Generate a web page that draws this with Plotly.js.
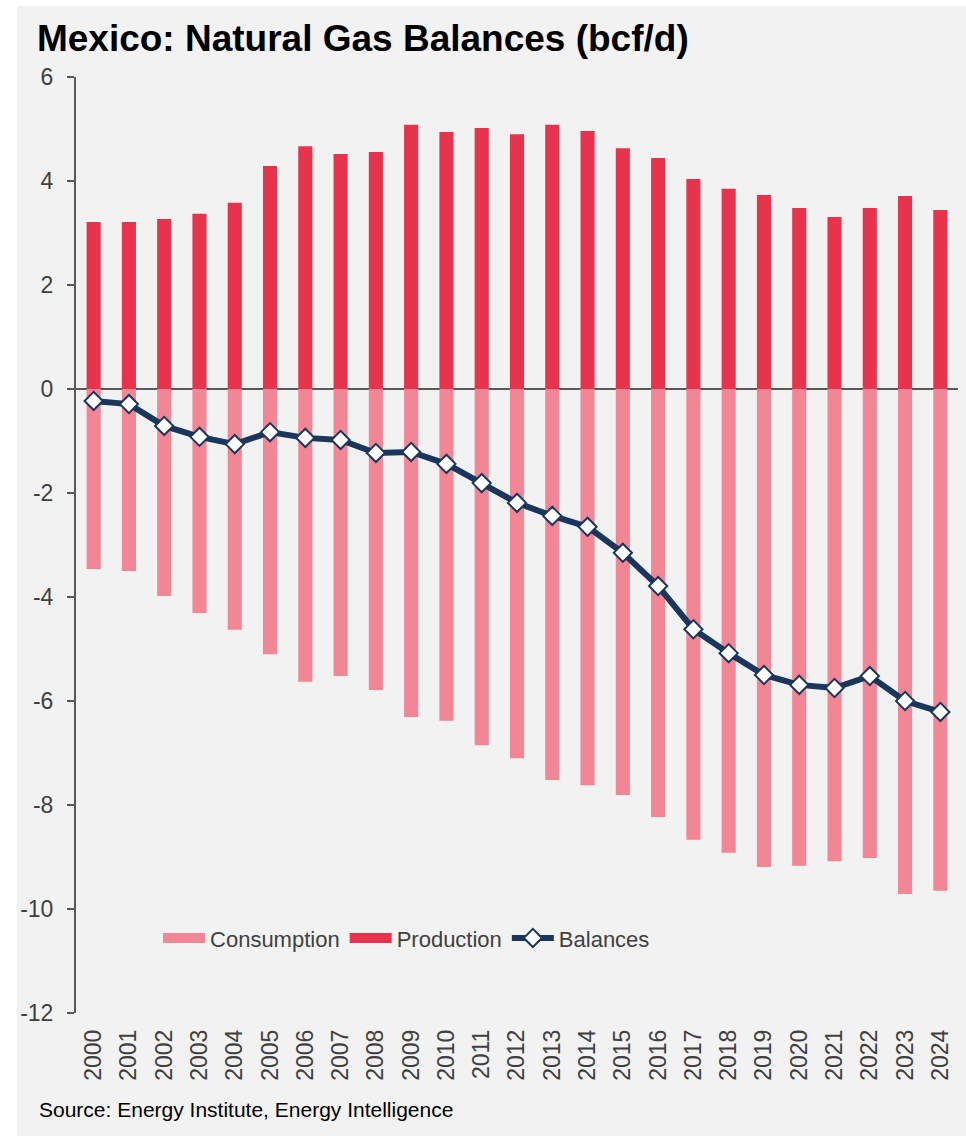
<!DOCTYPE html>
<html>
<head>
<meta charset="utf-8">
<script src="https://cdn.plot.ly/plotly-3.0.1.min.js"></script>
<style>
  body { margin: 0; background: #ffffff; }
  #chart { position: absolute; left: 17px; top: 6px; width: 949px; height: 1130px; }
</style>
</head>
<body>
<div id="chart"></div>
<script>
//------------------------------ data ------------------------------
var years = ['2000', '2001', '2002', '2003', '2004', '2005', '2006', '2007', '2008', '2009',
             '2010', '2011', '2012', '2013', '2014', '2015', '2016', '2017', '2018', '2019',
             '2020', '2021', '2022', '2023', '2024'];

var production = [3.21, 3.21, 3.27, 3.37, 3.58, 4.29, 4.67, 4.52, 4.56, 5.08,
                  4.94, 5.02, 4.90, 5.08, 4.96, 4.63, 4.44, 4.04, 3.85, 3.73,
                  3.48, 3.31, 3.48, 3.71, 3.44];

var consumption = [-3.46, -3.50, -3.98, -4.31, -4.63, -5.10, -5.63, -5.52, -5.79, -6.31,
                   -6.38, -6.85, -7.10, -7.52, -7.62, -7.81, -8.23, -8.67, -8.92, -9.19,
                   -9.17, -9.08, -9.02, -9.71, -9.65];

var balances = [-0.23, -0.29, -0.71, -0.92, -1.06, -0.83, -0.94, -0.98, -1.23, -1.21,
                -1.44, -1.81, -2.19, -2.44, -2.65, -3.15, -3.79, -4.62, -5.08, -5.50,
                -5.69, -5.75, -5.52, -6.00, -6.21];

var yTicks = [-12, -10, -8, -6, -4, -2, 0, 2, 4, 6];
var yTickText = yTicks.map(function (v) { return String(v); });  // plain hyphen, not U+2212

//------------------------------ styles ------------------------------
var font_base = "Arial, 'Liberation Sans', sans-serif";
var axis_color = '#595959';
var text_color = '#404040';
var col_consumption = '#F28695';
var col_production = '#E8334D';
var col_balances = '#1B365D';

var trace_consumption = {
  x: years,
  y: consumption,
  type: 'bar',
  name: 'Consumption',
  showlegend: false,
  marker: { color: col_consumption, line: { width: 0 } }
};

var trace_production = {
  x: years,
  y: production,
  type: 'bar',
  name: 'Production',
  showlegend: false,
  marker: { color: col_production, line: { width: 0 } }
};

var trace_balances = {
  x: years,
  y: balances,
  type: 'scatter',
  mode: 'lines+markers',
  name: 'Balances',
  showlegend: false,
  line: { color: col_balances, width: 6 },
  marker: {
    symbol: 'diamond',
    size: 14,
    color: '#FFFFFF',
    line: { color: col_balances, width: 2 }
  }
};

// legend-only entries (wide rectangle swatches like the original)
var legend_consumption = {
  x: [null], y: [null], type: 'scatter', mode: 'lines', name: 'Consumption',
  hoverinfo: 'skip', line: { color: col_consumption, width: 14 }
};
var legend_production = {
  x: [null], y: [null], type: 'scatter', mode: 'lines', name: 'Production',
  hoverinfo: 'skip', line: { color: col_production, width: 14 }
};
var legend_balances = {
  x: [null], y: [null], type: 'scatter', mode: 'lines+markers', name: 'Balances',
  hoverinfo: 'skip', line: { color: col_balances, width: 6 },
  marker: { symbol: 'diamond', size: 14, color: '#FFFFFF', line: { color: col_balances, width: 2 } }
};

var data = [trace_consumption, trace_production, trace_balances,
            legend_consumption, legend_production, legend_balances];

var layout = {
  width: 949,
  height: 1130,
  paper_bgcolor: '#F2F2F2',
  plot_bgcolor: '#F2F2F2',
  margin: { t: 71, r: 8, l: 59, b: 123 },
  barmode: 'relative',
  bargap: 0.6,
  showlegend: true,
  title: {
    text: '<b>Mexico: Natural Gas Balances (bcf/d)</b>',
    font: { family: font_base, size: 37, color: '#000000' },
    xref: 'container',
    x: 0.021,
    xanchor: 'left',
    yref: 'container',
    y: 0.972,
    yanchor: 'middle'
  },
  xaxis: {
    type: 'category',
    range: [-0.5, 24.5],
    tickangle: -90,
    ticks: '',
    ticklabelstandoff: 11,
    showgrid: false,
    showline: false,
    zeroline: false,
    tickfont: { family: font_base, size: 23, color: text_color }
  },
  yaxis: {
    range: [-12, 6],
    tickvals: yTicks,
    ticktext: yTickText,
    ticks: 'outside',
    ticklen: 7,
    tickwidth: 2,
    tickcolor: axis_color,
    ticklabelstandoff: 9,
    showline: true,
    linecolor: axis_color,
    linewidth: 2,
    showgrid: false,
    zeroline: true,
    zerolinecolor: axis_color,
    zerolinewidth: 2,
    tickfont: { family: font_base, size: 23, color: text_color }
  },
  legend: {
    orientation: 'h',
    x: 0.093,
    xanchor: 'left',
    y: 0.08,
    yanchor: 'middle',
    itemwidth: 42,
    bgcolor: 'rgba(0,0,0,0)',
    traceorder: 'normal',
    font: { family: font_base, size: 22, color: text_color }
  },
  annotations: [{
    text: 'Source: Energy Institute, Energy Intelligence',
    xref: 'paper',
    yref: 'paper',
    x: -0.0442,
    xanchor: 'left',
    y: -0.1036,
    yanchor: 'middle',
    showarrow: false,
    font: { family: font_base, size: 21, color: '#000000' }
  }]
};

Plotly.newPlot('chart', data, layout, { displayModeBar: false });
</script>
</body>
</html>
